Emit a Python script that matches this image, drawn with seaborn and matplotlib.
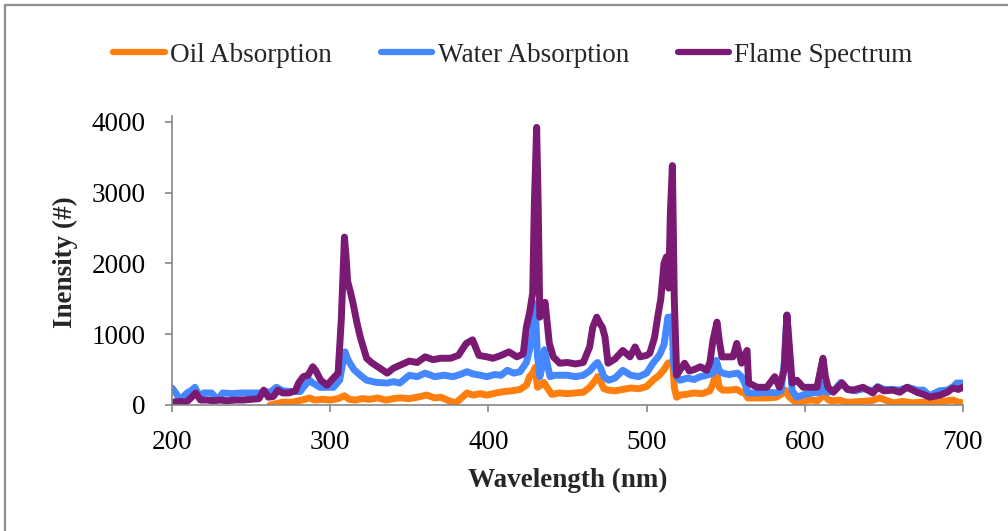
import matplotlib
matplotlib.use("Agg")
import matplotlib.pyplot as plt
from matplotlib.patches import Rectangle
import seaborn as sns
import pandas as pd

# ---------------- data ----------------
flame_x = [200, 205, 209, 212, 215, 218, 222, 226, 230, 235, 240, 245, 250, 255, 258, 261, 264, 267, 270, 274,
           278, 280, 283, 286, 289, 291, 294, 298, 302, 305, 307, 309, 310, 311, 312.5, 314.5, 317, 319, 323, 326,
           330, 336, 340, 344, 350, 355, 360, 365, 370, 376, 381, 386, 390, 394, 399, 403, 408, 413, 418, 422,
           424, 426, 428, 429, 430.5, 431.5, 432.5, 434, 435.8, 437, 438.5, 441, 445, 450, 455, 460, 464, 466, 468.5, 470.5,
           472, 473.7, 475.6, 480, 485, 489.5, 492.7, 495.8, 500, 502, 505, 507, 509, 511, 512.5, 514, 515, 516.3, 517.5, 519,
           521, 524, 527, 530, 534, 538, 540, 542, 544.5, 546, 547.6, 551, 554.6, 557, 560, 562, 563.5, 564.5, 570, 576,
           581, 584, 587, 588.7, 590, 592, 595, 599, 604.6, 607.7, 610.5, 611.5, 613, 614.7, 618, 623.5, 627, 630.5, 636.8, 643,
           646, 650, 655.7, 660, 664.6, 671, 675, 679, 685.5, 690, 693.7, 697, 700]
flame_y = [40, 50, 40, 100, 170, 70, 70, 60, 70, 60, 70, 70, 80, 90, 210, 110, 120, 210, 170, 170,
           200, 310, 400, 420, 540, 480, 350, 280, 380, 450, 1200, 2370, 2100, 1750, 1620, 1430, 1150, 960, 660, 600,
           540, 450, 520, 560, 620, 600, 680, 640, 660, 660, 700, 870, 920, 700, 680, 660, 700, 750, 680, 720,
           1100, 1300, 1580, 2800, 3920, 2800, 1240, 1300, 1450, 1200, 870, 680, 590, 600, 580, 600, 820, 1100, 1240, 1150,
           1100, 960, 590, 650, 770, 680, 820, 680, 700, 730, 950, 1240, 1500, 2000, 2090, 1650, 2700, 3380, 1500, 420,
           490, 590, 480, 500, 540, 490, 600, 920, 1170, 900, 680, 680, 680, 870, 590, 700, 770, 310, 250, 250,
           400, 250, 500, 1270, 900, 310, 350, 250, 250, 250, 550, 660, 400, 250, 180, 310, 220, 210, 250, 170,
           250, 200, 210, 180, 250, 180, 150, 110, 140, 180, 240, 220, 250]

water_x = [200, 203, 205, 209.5, 212, 214.5, 217.7, 220, 225, 229, 232, 238, 244, 250, 255.6, 258, 262, 266, 270, 276,
           281, 283, 287, 289, 293.5, 298, 302, 306, 308, 309.4, 311, 312.5, 315, 319, 323, 329, 336, 340, 344, 350,
           355, 360, 366, 372, 377.6, 382, 386.5, 390, 395, 399, 404, 408, 412, 416, 420, 424, 426, 428, 429.5, 431,
           432.5, 434, 435.5, 437, 439, 442, 450, 455, 460, 464, 467, 469, 471, 473, 476, 480, 485, 490, 495, 500,
           504, 508, 511, 513.5, 515, 516, 517, 519, 521, 526, 530, 534, 538, 542, 544, 546, 548, 552, 557.6, 560,
           562, 564, 570, 576, 582, 585, 587, 588.7, 590, 592, 595, 600, 605, 610, 612, 614, 618, 623, 627, 632,
           637, 643, 646, 650, 656, 660, 665, 671, 675, 679, 685, 690, 694, 696, 700]
water_y = [240, 150, 70, 170, 200, 250, 110, 170, 170, 70, 170, 160, 170, 170, 170, 190, 180, 250, 200, 190,
           190, 250, 350, 310, 250, 250, 250, 350, 600, 750, 650, 590, 500, 420, 350, 320, 310, 330, 310, 420,
           400, 450, 400, 420, 400, 430, 470, 440, 420, 400, 430, 420, 490, 450, 470, 600, 780, 1000, 1430, 700,
           400, 550, 780, 600, 400, 420, 420, 400, 420, 480, 560, 600, 520, 400, 350, 380, 490, 420, 400, 450,
           590, 700, 850, 1240, 1100, 1250, 600, 400, 350, 380, 360, 400, 420, 450, 630, 480, 450, 430, 450, 400,
           310, 170, 170, 180, 170, 200, 600, 1270, 800, 200, 110, 150, 170, 180, 300, 180, 200, 320, 220, 200,
           230, 200, 260, 220, 220, 210, 250, 210, 210, 130, 200, 210, 260, 310, 310]

oil_x = [262, 266, 270, 276.7, 280, 284, 287, 290, 295, 300, 305, 309, 312, 316, 320, 325, 330, 335, 340, 344,
         350, 355, 361, 366, 370, 375, 379.5, 383, 386.5, 390, 395, 399, 405, 410, 415, 420, 424, 426, 428, 429.5,
         431, 433, 435, 437, 440, 445, 450, 455, 460, 464, 467, 469, 471, 473, 476, 480, 485, 490, 495, 500,
         504, 508, 511, 513.5, 515, 516.5, 517.5, 519, 521, 525, 530, 535, 540, 542, 544, 546, 548, 552, 557, 560,
         562, 564, 570, 576, 582, 585, 587.7, 590, 594, 596, 599, 604, 608, 610, 611.5, 613, 615, 618, 622, 626,
         630, 636, 642, 647.5, 652, 656, 662, 668, 674, 680, 686, 690, 693.7, 697, 700]
oil_y = [0, 20, 40, 40, 60, 80, 100, 70, 80, 70, 90, 130, 80, 70, 90, 80, 100, 70, 90, 100,
         90, 110, 140, 100, 110, 60, 30, 100, 170, 140, 160, 140, 170, 190, 200, 220, 280, 400, 450, 530,
         250, 280, 320, 250, 150, 170, 160, 170, 180, 250, 330, 400, 330, 230, 210, 200, 220, 240, 230, 260,
         350, 420, 500, 590, 600, 620, 250, 110, 140, 150, 170, 160, 200, 300, 470, 250, 210, 210, 220, 180,
         170, 100, 100, 100, 110, 150, 210, 120, 40, 0, 60, 70, 60, 100, 210, 120, 70, 60, 70, 40,
         40, 50, 60, 100, 60, 30, 50, 30, 40, 30, 50, 60, 70, 40, 30]

series_names = ["Oil Absorption", "Water Absorption", "Flame Spectrum"]
series_colors = ["#FF7F0E", "#4487FF", "#7A1A73"]
x_ticks = [200, 300, 400, 500, 600, 700]
y_ticks = [0, 1000, 2000, 3000, 4000]

# ---------------- build table ----------------
frames = []
for name, xs, ys in zip(series_names, [oil_x, water_x, flame_x], [oil_y, water_y, flame_y]):
    frames.append(pd.DataFrame({"Wavelength": xs, "Intensity": ys, "Series": name}))
df = pd.concat(frames, ignore_index=True)

# ---------------- style ----------------
sns.set_style("white")
plt.rcParams["font.family"] = ["Liberation Serif", "DejaVu Serif"]
plt.rcParams["font.size"] = 19.5

fig = plt.figure(figsize=(10.08, 5.31), dpi=100)
ax = fig.add_axes([172 / 1008, 126 / 531, 791 / 1008, 289 / 531])

sns.lineplot(data=df, x="Wavelength", y="Intensity", hue="Series", hue_order=series_names,
             palette=dict(zip(series_names, series_colors)), estimator=None, sort=True,
             lw=5.0, solid_capstyle="round", solid_joinstyle="round", ax=ax, legend=True)

ax.set_xlim(200, 700)
ax.set_ylim(0, 4080)
ax.set_xticks(x_ticks)
ax.set_yticks(y_ticks)
ax.set_xticklabels([str(t) for t in x_ticks])
ax.set_yticklabels([str(t) for t in y_ticks])

gray = "#868686"
for s in ["top", "right"]:
    ax.spines[s].set_visible(False)
for s in ["left", "bottom"]:
    ax.spines[s].set_color(gray)
    ax.spines[s].set_linewidth(1.2)
ax.tick_params(axis="both", which="major", direction="out", length=5, width=1.2,
               color=gray, labelsize=19.5, labelcolor="black")
ax.tick_params(axis="x", pad=13, bottom=True)
ax.tick_params(axis="y", pad=14, left=True)
ax.grid(False)

ax.set_xlabel("Wavelength (nm)", fontweight="bold", fontsize=19.5)
ax.set_ylabel("Inensity (#)", fontweight="bold", fontsize=19.5)
ax.xaxis.label.set_va("center")
ax.yaxis.label.set_va("center")
ax.xaxis.set_label_coords(0.5, (405 - 480) / 289)
ax.yaxis.set_label_coords((65 - 172) / 791, (405 - 262) / 289)

handles, labels = ax.get_legend_handles_labels()
ax.get_legend().remove()
leg = fig.legend(handles, labels, loc="center", bbox_to_anchor=(513 / 1008, 1 - 55 / 531),
                 ncol=3, frameon=False, fontsize=19.5, handlelength=1.9, handletextpad=0.2,
                 columnspacing=1.8, borderpad=0)
for h in leg.legend_handles:
    h.set_linewidth(4.5)

fig.add_artist(Rectangle((5 / 1008, -0.1), 1.2, (531 - 5) / 531 + 0.1, transform=fig.transFigure,
                         fill=False, edgecolor="#8f8f8f", lw=1.6))

fig.savefig("out.png", dpi=100)
